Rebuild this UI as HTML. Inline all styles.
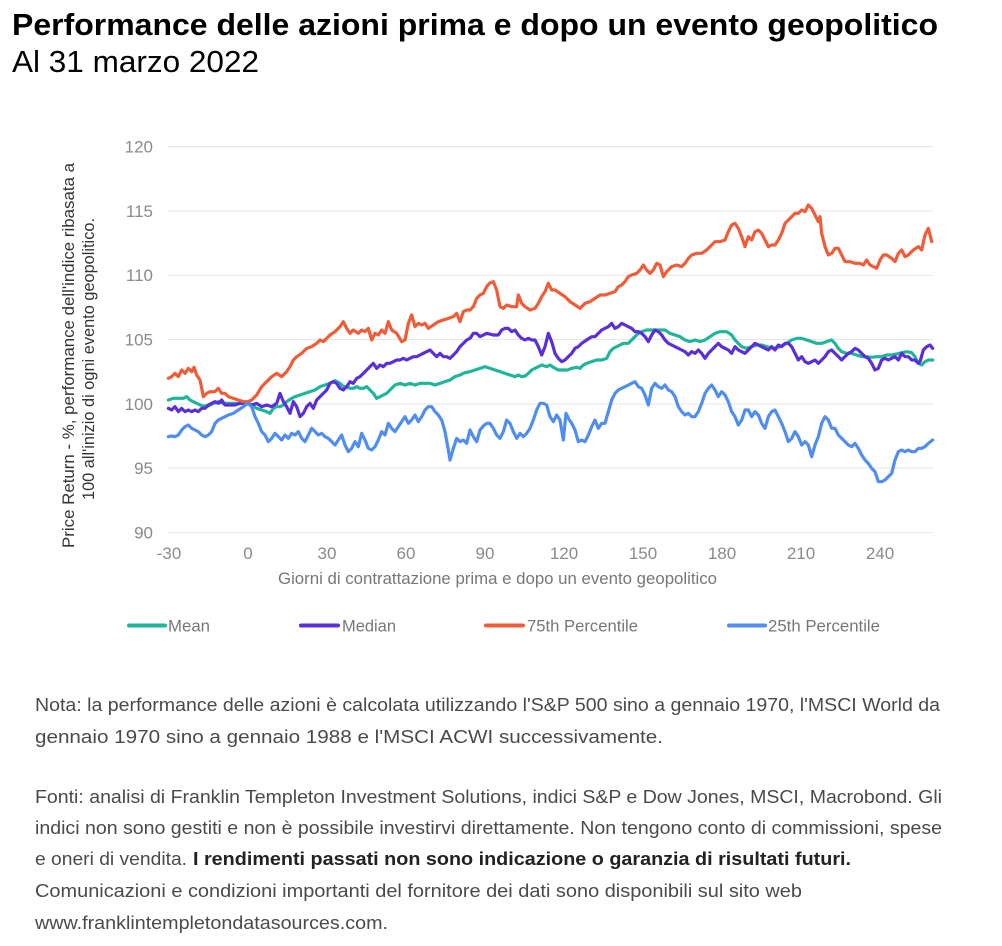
<!DOCTYPE html>
<html>
<head>
<meta charset="utf-8">
<style>
html,body{margin:0;padding:0;background:#fff;}
svg{display:block;font-family:"Liberation Sans",Arial,sans-serif;}
</style>
</head>
<body>
<svg width="1002" height="946" viewBox="0 0 1002 946" xmlns="http://www.w3.org/2000/svg">
<rect width="1002" height="946" fill="#fff"/>

<!-- Title -->
<text x="12" y="35" font-size="31" font-weight="bold" fill="#000" textLength="926" lengthAdjust="spacingAndGlyphs">Performance delle azioni prima e dopo un evento geopolitico</text>
<text x="12" y="72" font-size="31" fill="#000" textLength="247" lengthAdjust="spacingAndGlyphs">Al 31 marzo 2022</text>

<!-- Gridlines -->
<g stroke="#e6e6e6" stroke-width="1">
<line x1="168" y1="146.7" x2="933" y2="146.7"/>
<line x1="168" y1="211" x2="933" y2="211"/>
<line x1="168" y1="275.3" x2="933" y2="275.3"/>
<line x1="168" y1="339.5" x2="933" y2="339.5"/>
<line x1="168" y1="404" x2="933" y2="404"/>
<line x1="168" y1="468" x2="933" y2="468"/>
<line x1="168" y1="532.7" x2="933" y2="532.7"/>
</g>

<!-- Y tick labels -->
<g font-size="17" fill="#8a8a8a" text-anchor="end">
<text x="153" y="152.5">120</text>
<text x="153" y="217">115</text>
<text x="153" y="281">110</text>
<text x="153" y="345.5">105</text>
<text x="153" y="410">100</text>
<text x="153" y="474">95</text>
<text x="153" y="538.5">90</text>
</g>

<!-- X tick labels -->
<g font-size="17" fill="#8a8a8a" text-anchor="middle">
<text x="169" y="559">-30</text>
<text x="248" y="559">0</text>
<text x="327" y="559">30</text>
<text x="406" y="559">60</text>
<text x="485" y="559">90</text>
<text x="564" y="559">120</text>
<text x="643" y="559">150</text>
<text x="722" y="559">180</text>
<text x="801" y="559">210</text>
<text x="880" y="559">240</text>
</g>

<!-- Axis titles -->
<text x="497.5" y="584" font-size="17" fill="#777" text-anchor="middle" textLength="439" lengthAdjust="spacingAndGlyphs">Giorni di contrattazione prima e dopo un evento geopolitico</text>
<text transform="translate(74,355.5) rotate(-90)" font-size="17" fill="#333" text-anchor="middle" textLength="385" lengthAdjust="spacingAndGlyphs">Price Return - %, performance dell'indice ribasata a</text>
<text transform="translate(94,359) rotate(-90)" font-size="17" fill="#333" text-anchor="middle" textLength="282" lengthAdjust="spacingAndGlyphs">100 all'inizio di ogni evento geopolitico.</text>

<!-- Series: left half -->
<g transform="translate(50,130) scale(0.333333)" fill="none" stroke-width="9.6" stroke-linejoin="round" stroke-linecap="round">
<polyline stroke="#1fb59b" points="355,810 370,805 385,805 400,805 410,800 420,810 430,815 440,820 450,825 460,828 475,828 490,820 505,815 520,820 535,820 550,820 565,820 580,820 593,820 605,825 620,835 635,840 650,845 660,850 670,835 680,830 690,830 700,825 710,815 720,808 735,800 750,795 765,790 780,785 795,780 810,770 825,765 840,760 855,752 870,760 880,770 890,770 900,775 910,775 920,770 930,775 940,775 950,770 960,780 970,790 980,805 990,800 1000,795 1010,790 1020,780 1035,765 1050,760 1065,765 1080,760 1095,765 1110,760 1125,760 1140,760 1155,765 1170,760 1185,755 1200,750 1215,740 1230,735 1245,728 1260,725 1275,720 1290,715"/>
<polyline stroke="#5b2fd8" points="355,835 365,840 375,830 385,845 395,835 405,845 415,840 425,845 435,840 445,845 455,835 465,835 475,825 485,820 495,815 505,820 515,810 525,825 540,825 555,825 570,820 593,820 605,825 620,820 635,830 650,825 665,830 680,820 690,790 700,815 710,830 720,850 730,815 740,830 750,860 760,850 770,830 780,820 790,835 800,810 810,800 820,790 830,780 840,760 850,755 860,760 870,775 880,780 890,770 900,755 910,760 920,745 930,740 940,730 950,720 960,710 970,700 980,715 990,705 1000,710 1010,700 1020,700 1030,695 1040,690 1050,690 1060,685 1070,690 1080,685 1090,680 1100,680 1110,675 1120,670 1130,665 1140,660 1150,670 1160,680 1170,670 1180,680 1190,680 1200,685 1210,675 1220,665 1230,650 1240,640 1250,630 1260,625 1270,610 1280,610 1290,620 1300,615"/>
<polyline stroke="#f05c38" points="355,745 365,740 375,730 385,740 395,720 405,730 415,715 425,725 432,712 440,735 450,750 460,800 470,790 480,785 495,785 505,775 515,790 525,790 535,800 550,805 565,810 580,815 593,815 605,810 620,795 635,770 650,755 665,740 680,730 695,740 710,725 720,710 730,690 740,680 755,670 770,655 785,650 800,640 810,630 820,635 830,625 840,615 855,605 870,590 880,575 890,595 900,610 910,600 925,610 935,600 945,605 955,595 965,630 975,610 985,615 995,600 1005,610 1015,575 1025,600 1040,610 1055,635 1065,630 1075,580 1085,555 1095,590 1105,580 1115,585 1125,580 1135,595 1150,585 1165,575 1180,570 1195,565 1210,560 1220,550 1230,575 1240,545 1250,540 1260,540 1270,530 1280,505 1290,495 1300,490"/>
<polyline stroke="#4f8ef0" points="355,920 365,918 375,920 385,915 395,900 405,890 415,885 425,895 435,900 445,905 455,915 465,920 475,915 485,905 495,880 505,870 515,865 525,860 535,855 550,850 565,840 580,830 593,820 605,830 615,860 625,880 635,905 645,915 655,935 665,925 675,910 685,920 695,930 705,915 715,925 725,910 735,915 745,905 755,925 765,935 775,915 785,895 795,905 805,915 815,910 825,920 835,925 845,935 855,945 865,930 875,915 885,945 895,965 905,955 915,935 925,950 935,910 945,930 955,955 965,960 975,950 985,930 995,905 1005,915 1015,880 1025,895 1035,905 1045,890 1055,875 1065,860 1075,880 1085,870 1095,855 1105,875 1115,860 1125,840 1135,830 1145,830 1155,845 1165,855 1175,870 1185,905 1195,960 1200,990 1210,955 1220,925 1230,935 1240,930 1250,940 1260,900 1270,920 1280,935 1290,900 1300,888"/>
</g>

<!-- Series: right half -->
<g transform="translate(480,130) scale(0.333333)" fill="none" stroke-width="9.6" stroke-linejoin="round" stroke-linecap="round">
<polyline stroke="#1fb59b" points="0,715 15,710 30,715 45,720 60,725 75,730 90,735 105,740 115,735 125,740 135,738 145,730 155,720 165,715 175,710 185,705 200,710 210,705 220,712 235,720 250,720 262,720 275,715 290,712 300,715 310,705 320,700 335,695 350,690 365,690 380,685 390,665 400,655 410,650 420,645 430,640 445,640 455,630 465,620 475,610 485,605 500,600 515,600 530,600 545,600 555,600 570,610 585,615 600,620 615,630 630,635 645,630 660,635 675,630 690,620 705,610 720,605 740,605 755,615 765,630 775,640 785,650 800,655 815,650 830,645 845,645 860,650 880,655 900,650 920,640 935,630 950,625 965,625 980,630 995,635 1010,640 1025,640 1040,635 1055,630 1065,640 1075,655 1085,665 1100,670 1115,670 1130,675 1145,680 1160,680 1175,682 1190,680 1205,680 1220,675 1235,675 1250,672 1265,668 1280,665 1295,668 1305,680 1315,700 1325,705 1335,695 1345,690 1358,690"/>
<polyline stroke="#5b2fd8" points="10,615 20,610 40,615 55,615 65,600 75,595 85,595 95,605 105,600 115,615 125,625 135,630 145,625 155,630 165,630 175,650 185,675 195,650 205,610 215,635 225,670 235,685 245,695 255,690 265,680 275,670 285,655 295,650 305,640 320,630 335,620 345,620 355,610 365,600 375,595 385,590 395,580 405,595 415,590 425,580 435,585 445,590 455,595 465,605 475,605 485,610 495,620 505,635 515,615 525,600 535,605 545,615 555,630 565,640 575,645 585,650 595,655 605,660 615,665 625,675 635,665 645,670 655,660 665,670 675,685 685,670 695,660 705,650 715,640 725,650 735,655 745,660 755,670 765,650 775,660 785,665 795,670 805,660 815,650 825,640 835,645 845,650 855,655 865,660 875,650 885,660 895,645 905,650 915,640 925,640 935,650 945,670 955,690 965,680 975,695 985,700 995,695 1005,690 1015,700 1025,690 1035,680 1045,665 1055,660 1065,670 1075,680 1085,690 1095,680 1105,670 1115,665 1125,655 1135,660 1145,670 1155,680 1165,685 1175,700 1185,720 1195,715 1205,690 1215,685 1225,690 1235,685 1245,680 1255,690 1265,670 1275,680 1285,680 1295,690 1305,690 1315,700 1320,695 1330,660 1340,650 1350,645 1358,655"/>
<polyline stroke="#f05c38" points="10,490 20,470 28,460 40,455 50,480 60,530 70,535 80,525 95,530 110,530 115,495 125,520 135,530 150,540 165,535 175,520 185,500 195,485 205,460 215,480 225,480 240,490 255,500 270,515 285,525 300,535 315,520 330,515 345,505 360,495 375,495 390,490 405,485 415,470 425,465 435,455 445,440 455,435 470,430 480,420 490,405 500,420 510,430 520,420 530,400 540,405 550,440 560,425 575,410 590,405 605,410 615,400 625,385 635,375 650,370 665,370 680,360 695,345 705,335 720,335 735,330 745,305 755,285 765,280 775,295 785,320 795,350 805,320 815,330 825,305 835,300 845,310 855,330 865,350 875,345 885,345 895,330 905,310 915,280 930,265 945,250 955,250 965,240 975,245 985,225 995,235 1005,255 1015,275 1020,260 1025,310 1035,350 1045,375 1055,370 1065,355 1075,355 1085,375 1095,395 1110,395 1125,400 1140,400 1150,405 1160,390 1170,405 1180,410 1190,415 1200,390 1210,375 1220,375 1235,385 1245,395 1255,370 1265,360 1275,380 1285,375 1300,360 1315,350 1325,360 1335,315 1345,295 1355,335"/>
<polyline stroke="#4f8ef0" points="10,888 20,880 30,880 40,895 50,915 60,925 70,905 80,870 90,880 100,905 110,925 120,910 130,920 140,910 150,895 160,870 170,840 180,820 190,820 200,825 210,860 220,875 230,855 240,870 250,930 258,850 268,870 275,880 285,900 295,935 305,930 315,935 325,915 335,890 345,870 355,895 365,880 375,880 385,845 395,810 405,790 415,780 425,775 435,770 445,765 455,760 465,755 475,770 485,775 495,795 505,825 515,775 525,760 535,770 545,775 555,765 565,780 575,785 585,800 595,830 605,845 615,855 625,850 635,860 645,860 655,845 665,820 675,790 685,775 695,765 705,780 715,800 725,785 735,795 745,815 755,845 765,860 775,885 785,870 795,840 805,840 815,860 825,845 835,855 845,880 855,895 865,860 875,845 885,840 895,860 905,880 915,905 925,935 935,925 945,905 955,920 965,945 975,935 985,945 995,980 1005,945 1015,920 1025,880 1035,860 1045,870 1055,895 1065,895 1075,915 1085,925 1095,935 1105,945 1115,950 1125,940 1135,955 1145,975 1155,990 1165,1000 1175,1015 1185,1025 1195,1055 1205,1055 1215,1050 1225,1040 1235,1030 1245,990 1255,965 1265,960 1275,965 1285,960 1295,965 1305,965 1315,955 1325,955 1335,950 1345,940 1358,930"/>
</g>

<!-- Legend -->
<g stroke-width="4" stroke-linecap="round">
<line x1="129" y1="625.5" x2="165" y2="625.5" stroke="#1fb59b"/>
<line x1="301" y1="625.5" x2="338" y2="625.5" stroke="#5b2fd8"/>
<line x1="486" y1="625.5" x2="523" y2="625.5" stroke="#f05c38"/>
<line x1="729" y1="625.5" x2="765" y2="625.5" stroke="#4f8ef0"/>
</g>
<g font-size="17" fill="#777">
<text x="168" y="631.5" textLength="42" lengthAdjust="spacingAndGlyphs">Mean</text>
<text x="342" y="631.5" textLength="54" lengthAdjust="spacingAndGlyphs">Median</text>
<text x="527" y="631.5" textLength="111" lengthAdjust="spacingAndGlyphs">75th Percentile</text>
<text x="768" y="631.5" textLength="112" lengthAdjust="spacingAndGlyphs">25th Percentile</text>
</g>

<!-- Notes -->
<g font-size="18" fill="#4a4a4a">
<text x="35" y="711" textLength="905" lengthAdjust="spacingAndGlyphs">Nota: la performance delle azioni è calcolata utilizzando l'S&amp;P 500 sino a gennaio 1970, l'MSCI World da</text>
<text x="35" y="743" textLength="628" lengthAdjust="spacingAndGlyphs">gennaio 1970 sino a gennaio 1988 e l'MSCI ACWI successivamente.</text>
<text x="35" y="803" textLength="907" lengthAdjust="spacingAndGlyphs">Fonti: analisi di Franklin Templeton Investment Solutions, indici S&amp;P e Dow Jones, MSCI, Macrobond. Gli</text>
<text x="35" y="834" textLength="907" lengthAdjust="spacingAndGlyphs">indici non sono gestiti e non è possibile investirvi direttamente. Non tengono conto di commissioni, spese</text>
<text x="35" y="865" textLength="152" lengthAdjust="spacingAndGlyphs">e oneri di vendita.</text>
<text x="193" y="865" textLength="658" lengthAdjust="spacingAndGlyphs" font-weight="bold" fill="#222">I rendimenti passati non sono indicazione o garanzia di risultati futuri.</text>
<text x="35" y="897" textLength="767" lengthAdjust="spacingAndGlyphs">Comunicazioni e condizioni importanti del fornitore dei dati sono disponibili sul sito web</text>
<text x="35" y="929" textLength="353" lengthAdjust="spacingAndGlyphs">www.franklintempletondatasources.com.</text>
</g>
</svg>
</body>
</html>
